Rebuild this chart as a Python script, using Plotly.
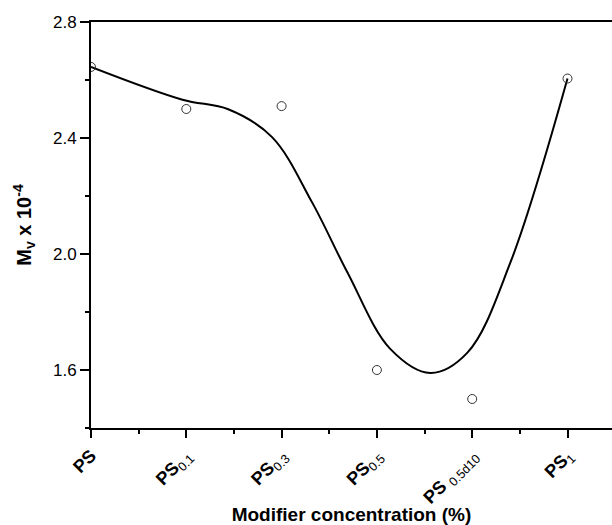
import plotly.graph_objects as go

# category positions and labels
categories = ["PS", "PS0.1", "PS0.3", "PS0.5", "PS0.5d10", "PS1"]
cat_pos = [0, 1, 2, 3, 4, 5]
minor_pos = [0.5, 1.5, 2.5, 3.5, 4.5]
tick_labels = [
    "<b>PS</b>",
    "<b>PS</b><sub>0.1</sub>",
    "<b>PS</b><sub>0.3</sub>",
    "<b>PS</b><sub>0.5</sub>",
    "<b>PS</b> <sub>0.5d10</sub>",
    "<b>PS</b><sub>1</sub>",
]
# measured values (Mv x 10^-4)
mv_values = [2.645, 2.50, 2.51, 1.60, 1.50, 2.605]

# fitted smooth curve
curve_x = [0.0, 0.96, 1.44, 1.90, 2.32, 2.69, 3.14, 3.56, 3.95, 4.40, 5.0]
curve_y = [2.645, 2.532, 2.499, 2.403, 2.178, 1.937, 1.673, 1.590, 1.660, 1.970, 2.605]

y_major = [1.6, 2.0, 2.4, 2.8]
y_minor = [1.4, 1.8, 2.2, 2.6]

X_RANGE = [0, 5.467]
Y_RANGE = [1.4, 2.8]
font_family = "Liberation Sans, Arial, sans-serif"

fig = go.Figure()
fig.add_trace(go.Scatter(x=curve_x, y=curve_y, mode="lines",
                         line=dict(color="black", width=2, shape="spline", smoothing=1.0),
                         hoverinfo="skip", showlegend=False))
fig.add_trace(go.Scatter(x=cat_pos, y=mv_values, mode="markers",
                         marker=dict(symbol="circle-open", size=9, color="#333333",
                                     line=dict(width=1)),
                         showlegend=False))

fig.update_layout(
    width=612, height=525,
    margin=dict(l=91, r=0, t=22, b=78),
    plot_bgcolor="white", paper_bgcolor="white",
    font=dict(family=font_family, color="black"),
    xaxis=dict(
        range=X_RANGE, tickvals=cat_pos, ticktext=tick_labels, tickangle=-45,
        ticks="outside", ticklen=8, tickwidth=1.5, tickcolor="black",
        showline=True, linecolor="black", linewidth=2, mirror=True,
        showgrid=False, zeroline=False,
        tickfont=dict(size=18),
        title=dict(text="<b>Modifier concentration (%)</b>", font=dict(size=19), standoff=2),
    ),
    xaxis2=dict(
        range=X_RANGE, overlaying="x", side="bottom", anchor="y",
        tickvals=minor_pos, showticklabels=False,
        ticks="outside", ticklen=5, tickwidth=1.5, tickcolor="black",
        showline=False, showgrid=False, zeroline=False,
    ),
    yaxis=dict(
        range=Y_RANGE, tickvals=y_major, ticktext=["1.6", "2.0", "2.4", "2.8"],
        ticks="outside", ticklen=9, tickwidth=1.5, tickcolor="black",
        showline=True, linecolor="black", linewidth=2, mirror=False,
        showgrid=False, zeroline=False,
        tickfont=dict(size=17),
        title=dict(text="<b>M<sub>v</sub> x 10<sup>-4</sup></b>", font=dict(size=20), standoff=16),
    ),
    yaxis2=dict(
        range=Y_RANGE, overlaying="y", side="left", anchor="x",
        tickvals=y_minor, showticklabels=False,
        ticks="outside", ticklen=5, tickwidth=1.5, tickcolor="black",
        showline=False, showgrid=False, zeroline=False,
    ),
)
# invisible traces to activate the minor-tick axes
fig.add_trace(go.Scatter(x=minor_pos, y=[None] * len(minor_pos), xaxis="x2", yaxis="y",
                         mode="markers", showlegend=False, hoverinfo="skip"))
fig.add_trace(go.Scatter(x=[None] * len(y_minor), y=y_minor, xaxis="x", yaxis="y2",
                         mode="markers", showlegend=False, hoverinfo="skip"))

fig.write_html("out.html")
